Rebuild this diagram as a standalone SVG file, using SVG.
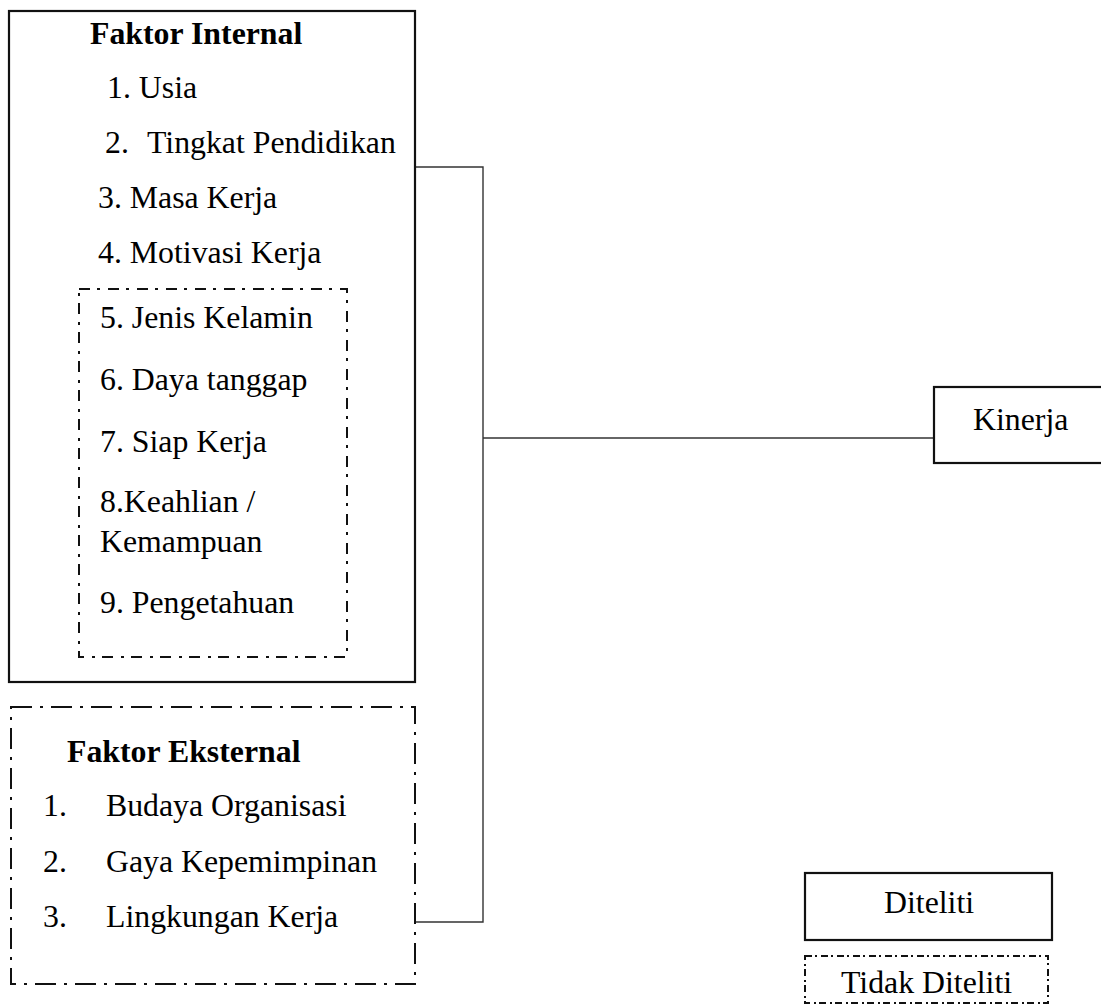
<svg xmlns="http://www.w3.org/2000/svg" width="1101" height="1005" viewBox="0 0 1101 1005">
<style>
text{font-family:"Liberation Serif","Times New Roman",serif;font-size:31.8px;fill:#000}
.b{font-weight:bold}
.solid{fill:#fff;stroke:#111;stroke-width:2.2}
.dd1{fill:none;stroke:#111;stroke-width:2;stroke-dasharray:11 7 3 8}
.dd2{fill:none;stroke:#111;stroke-width:2;stroke-dasharray:21 8 3 8}
.dd3{fill:none;stroke:#111;stroke-width:2;stroke-dasharray:7 3 2 4}
.conn{fill:none;stroke:#333;stroke-width:1.4}
</style>
<rect width="1101" height="1005" fill="#fff"/>
<g id="connectors">
<polyline class="conn" points="416,167 483,167 483,922 416,922"/>
<line class="conn" x1="483" y1="438" x2="934" y2="438"/>
</g>
<g id="faktor-internal">
<rect class="solid" x="9" y="11" width="406" height="671"/>
<text class="b" x="90" y="44">Faktor Internal</text>
<text x="107" y="98">1. Usia</text>
<text x="105" y="153">2.</text>
<text x="147" y="153">Tingkat Pendidikan</text>
<text x="98" y="208">3. Masa Kerja</text>
<text x="98" y="263">4. Motivasi Kerja</text>
</g>
<g id="tidak-diteliti-internal">
<rect class="dd1" x="79" y="289" width="268" height="368"/>
<text x="100" y="328">5. Jenis Kelamin</text>
<text x="100" y="390">6. Daya tanggap</text>
<text x="100" y="452">7. Siap Kerja</text>
<text x="100" y="512">8.Keahlian /</text>
<text x="100" y="552">Kemampuan</text>
<text x="100" y="613">9. Pengetahuan</text>
</g>
<g id="faktor-eksternal">
<rect class="dd2" x="11" y="707" width="404" height="277"/>
<text class="b" x="67" y="762">Faktor Eksternal</text>
<text x="43" y="816">1.</text>
<text x="106" y="816">Budaya Organisasi</text>
<text x="43" y="872">2.</text>
<text x="106" y="872">Gaya Kepemimpinan</text>
<text x="43" y="927">3.</text>
<text x="106" y="927">Lingkungan Kerja</text>
</g>
<g id="kinerja">
<rect class="solid" x="934" y="387" width="180" height="76"/>
<text x="973" y="430">Kinerja</text>
</g>
<g id="legend-diteliti">
<rect class="solid" x="805" y="873" width="247" height="67"/>
<text x="884" y="913">Diteliti</text>
</g>
<g id="legend-tidak-diteliti">
<rect class="dd3" x="805" y="956" width="243" height="47"/>
<text x="841" y="993">Tidak Diteliti</text>
</g>
</svg>
